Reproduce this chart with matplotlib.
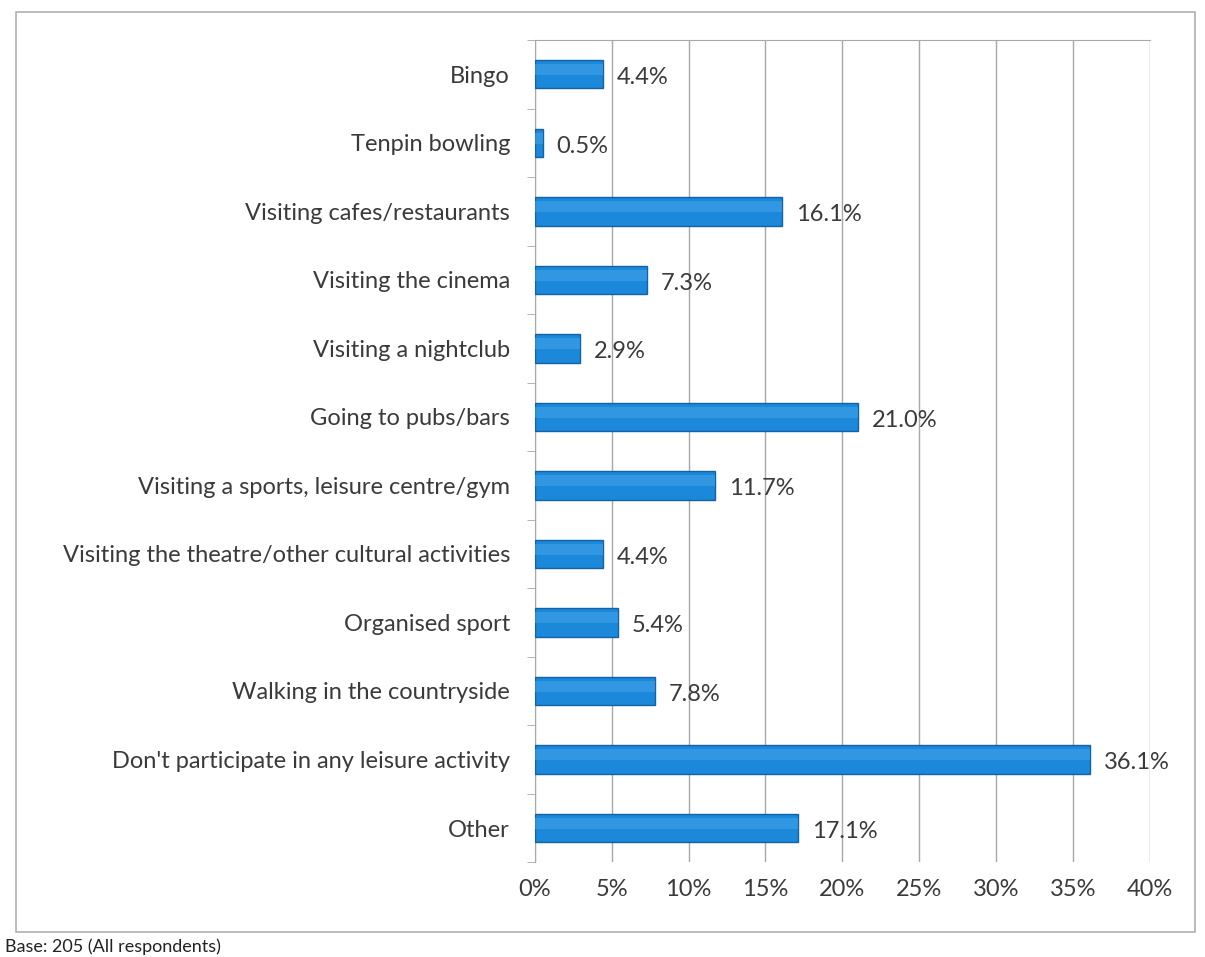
import numpy as np
import matplotlib.pyplot as plt
import matplotlib.ticker as ticker

# Leisure activities and share of respondents (%)
activities = [
    'Bingo',
    'Tenpin bowling',
    'Visiting cafes/restaurants',
    'Visiting the cinema',
    'Visiting a nightclub',
    'Going to pubs/bars',
    'Visiting a sports, leisure centre/gym',
    'Visiting the theatre/other cultural activities',
    'Organised sport',
    'Walking in the countryside',
    "Don't participate in any leisure activity",
    'Other',
]
shares = [4.4, 0.5, 16.1, 7.3, 2.9, 21.0, 11.7, 4.4, 5.4, 7.8, 36.1, 17.1]
x_ticks = [0, 5, 10, 15, 20, 25, 30, 35, 40]

BAR_BLUE = '#1b88da'
BAR_EDGE = '#1462a6'
GRID_GREY = '#a8a8a8'
TEXT_GREY = '#3a3a3a'

plt.rcParams['font.family'] = ['Lato', 'DejaVu Sans']

fig = plt.figure(figsize=(12.05, 9.57), dpi=100)
ax = fig.add_axes([0.444, 0.099, 0.510, 0.859])

y = np.arange(len(activities))
ax.barh(y, shares, height=0.41, color=BAR_BLUE, edgecolor=BAR_EDGE,
        linewidth=1.0, zorder=3)
# soft highlight along the upper part of each bar
ax.barh(y - 0.07, shares, height=0.16, color='#46a4ea', linewidth=0,
        alpha=0.55, zorder=4)

for yi, v in zip(y, shares):
    ax.text(v + 0.9, yi + 0.05, f'{v:.1f}%', va='center', ha='left',
            fontsize=17, color=TEXT_GREY, zorder=5)

ax.set_xlim(0, 40)
ax.set_ylim(len(activities) - 0.5, -0.5)
ax.xaxis.set_major_locator(ticker.FixedLocator(x_ticks))
ax.set_xticklabels([f'{t}%' for t in x_ticks])
ax.set_yticks(y)
ax.set_yticklabels(activities)
ax.yaxis.set_minor_locator(ticker.FixedLocator(np.arange(-0.5, len(activities), 1)))

ax.grid(True, axis='x', color=GRID_GREY, linewidth=1.0, zorder=0)
for side in ['right', 'bottom']:
    ax.spines[side].set_visible(False)
ax.spines['top'].set_color(GRID_GREY)
ax.spines['left'].set_color(GRID_GREY)

ax.tick_params(axis='y', which='major', length=0, pad=18,
               labelsize=17, labelcolor=TEXT_GREY)
ax.tick_params(axis='y', which='minor', length=6, color=GRID_GREY)
ax.tick_params(axis='x', length=0, pad=12, labelsize=17, labelcolor=TEXT_GREY)

# outer chart frame
frame = plt.Rectangle((0.013, 0.026), 0.979, 0.961, transform=fig.transFigure,
                      fill=False, edgecolor='#b0b0b0', linewidth=1.2)
fig.patches.append(frame)

fig.text(0.004, 0.002, 'Base: 205 (All respondents)', fontsize=13,
         color='#222222', ha='left', va='bottom')

fig.savefig('out.png', dpi=100)
